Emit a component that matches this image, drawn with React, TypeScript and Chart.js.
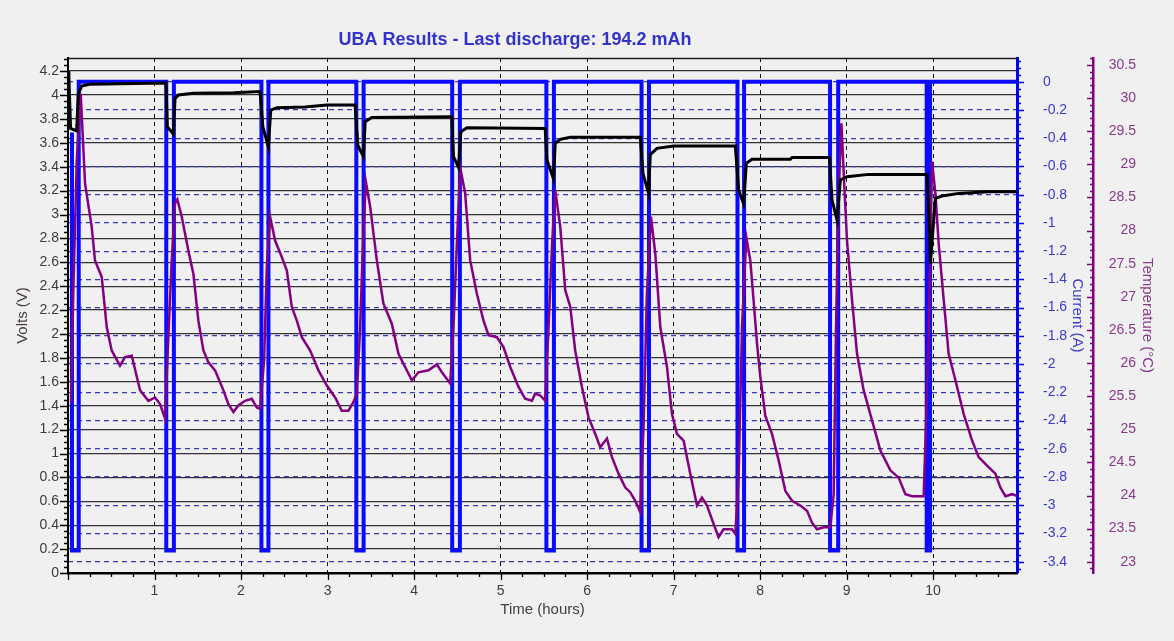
import { useEffect, useRef } from 'react';
import { Chart, registerables } from 'chart.js';

Chart.register(...registerables);

const FONT = '"Liberation Sans", Arial, sans-serif';

const TITLE = 'UBA Results - Last discharge: 194.2 mAh';
const X_TITLE = 'Time (hours)';
const VOLT_TITLE = 'Volts (V)';
const CURRENT_TITLE = 'Current (A)';
const TEMP_TITLE = 'Temperature (°C)';

// axis ranges
const X_MIN = 0;
const X_MAX = 10.97;
const VOLT_MIN = 0;
const VOLT_MAX = 4.31;
const CURRENT_MIN = -3.48;
const CURRENT_MAX = 0.168;
const TEMP_MIN = 22.83;
const TEMP_MAX = 30.606;

// Voltage (V) vs time (hours)
const voltHours = [
  0, 0.01, 0.03, 0.1, 0.119, 0.158, 0.25, 1.133,
  1.148, 1.218, 1.237, 1.276, 1.449, 1.912, 2.22,
  2.252, 2.316, 2.344, 2.414, 2.741, 2.992, 3.319,
  3.35, 3.415, 3.435, 3.512, 4.437,
  4.456, 4.514, 4.541, 4.611, 5.516,
  5.536, 5.612, 5.632, 5.69, 5.806, 6.615,
  6.646, 6.711, 6.731, 6.808, 7.0, 7.714,
  7.752, 7.81, 7.841, 7.907, 8.35, 8.369, 8.801,
  8.832, 8.89, 8.928, 9.005, 9.255, 9.931,
  9.957, 9.969, 10.026, 10.104, 10.296, 10.643, 10.97,
];
const voltValues = [
  4.2, 4.15, 3.72, 3.7, 4.01, 4.075, 4.09, 4.1,
  3.735, 3.674, 3.97, 4.0, 4.014, 4.02, 4.03,
  3.735, 3.567, 3.875, 3.894, 3.9, 3.916, 3.916,
  3.58, 3.485, 3.777, 3.813, 3.818,
  3.485, 3.395, 3.693, 3.727, 3.72,
  3.456, 3.3, 3.596, 3.629, 3.646, 3.646,
  3.345, 3.177, 3.5, 3.554, 3.573, 3.573,
  3.205, 3.088, 3.428, 3.462, 3.462, 3.478, 3.478,
  3.121, 2.954, 3.289, 3.316, 3.336, 3.336,
  2.898, 2.59, 3.135, 3.155, 3.177, 3.19, 3.19,
];

// Current (A) vs time (hours)
const currentHours = [
  0.046, 0.046, 0.124, 0.124,
  1.136, 1.136, 1.224, 1.224,
  2.236, 2.236, 2.317, 2.317,
  3.333, 3.333, 3.417, 3.417,
  4.441, 4.441, 4.53, 4.53,
  5.53, 5.53, 5.617, 5.617,
  6.63, 6.63, 6.716, 6.716,
  7.739, 7.739, 7.815, 7.815,
  8.809, 8.809, 8.903, 8.903,
  9.926, 9.926, 9.934, 9.936, 9.944, 9.946, 9.954, 9.965, 9.965,
  10.97,
];
const currentValues = [
  -0.36, -3.32, -3.32, 0,
  0, -3.32, -3.32, 0,
  0, -3.32, -3.32, 0,
  0, -3.32, -3.32, 0,
  0, -3.32, -3.32, 0,
  0, -3.32, -3.32, 0,
  0, -3.32, -3.32, 0,
  0, -3.32, -3.32, 0,
  0, -3.32, -3.32, 0,
  0, -3.32, -3.32, -0.3, -3.32, -0.3, -3.32, -3.32, 0,
  0,
];

// Temperature (°C) vs time (hours)
const tempHours = [
  0.035, 0.061, 0.101, 0.147, 0.197, 0.274, 0.312, 0.39, 0.448, 0.505,
  0.601, 0.659, 0.737, 0.833, 0.929, 1.006, 1.064, 1.122, 1.16, 1.199,
  1.237, 1.264, 1.315, 1.391, 1.449, 1.507, 1.565, 1.623, 1.7, 1.796,
  1.854, 1.912, 1.969, 2.047, 2.124, 2.182, 2.22, 2.267, 2.298, 2.336,
  2.394, 2.471, 2.529, 2.587, 2.645, 2.703, 2.799, 2.895, 2.992, 3.088,
  3.165, 3.242, 3.299, 3.339, 3.377, 3.408, 3.443, 3.493, 3.57, 3.646,
  3.744, 3.82, 3.897, 3.975, 4.051, 4.167, 4.264, 4.322, 4.418, 4.456,
  4.495, 4.533, 4.591, 4.649, 4.726, 4.803, 4.861, 4.958, 5.034, 5.112,
  5.208, 5.285, 5.363, 5.401, 5.459, 5.516, 5.555, 5.594, 5.632, 5.69,
  5.748, 5.806, 5.863, 5.941, 6.017, 6.095, 6.152, 6.23, 6.288, 6.364,
  6.442, 6.499, 6.557, 6.615, 6.653, 6.692, 6.739, 6.789, 6.847, 6.924,
  6.982, 7.039, 7.116, 7.193, 7.271, 7.329, 7.386, 7.463, 7.52, 7.578,
  7.675, 7.714, 7.752, 7.791, 7.841, 7.887, 7.925, 7.965, 8.003, 8.061,
  8.138, 8.215, 8.292, 8.369, 8.465, 8.543, 8.6, 8.658, 8.735, 8.812,
  8.851, 8.878, 8.908, 8.94, 8.978, 9.005, 9.063, 9.121, 9.197, 9.295,
  9.391, 9.506, 9.602, 9.68, 9.757, 9.891, 9.942, 9.988, 10.027, 10.065,
  10.123, 10.18, 10.258, 10.354, 10.451, 10.527, 10.624, 10.72, 10.778, 10.836,
  10.914, 10.971,
];
const tempValues = [
  25.4, 27.05, 29.06, 30.07, 28.71, 28.06, 27.55, 27.3, 26.54, 26.19,
  25.96, 26.09, 26.11, 25.59, 25.43, 25.48, 25.38, 25.16, 26.39, 27.55,
  28.41, 28.47, 28.21, 27.7, 27.35, 26.64, 26.19, 26.01, 25.89, 25.59,
  25.38, 25.26, 25.36, 25.43, 25.46, 25.33, 25.31, 26.04, 27.45, 28.21,
  27.85, 27.6, 27.4, 26.85, 26.64, 26.39, 26.19, 25.89, 25.66, 25.48,
  25.28, 25.28, 25.41, 25.54, 26.54, 27.75, 28.74, 28.36, 27.55, 26.9,
  26.59, 26.14, 25.94, 25.74, 25.86, 25.89, 25.98, 25.86, 25.69, 26.54,
  27.8, 28.96, 28.56, 27.55, 27.05, 26.64, 26.42, 26.39, 26.24, 25.94,
  25.64, 25.46, 25.43, 25.54, 25.51, 25.43, 26.54, 27.75, 28.61, 28.06,
  27.1, 26.85, 26.19, 25.64, 25.18, 24.93, 24.73, 24.86, 24.58, 24.33,
  24.12, 24.05, 23.92, 23.75, 25.03, 27.05, 28.21, 27.65, 26.54, 25.94,
  25.23, 24.93, 24.83, 24.33, 23.85, 23.97, 23.85, 23.57, 23.37, 23.49,
  23.49, 23.42, 24.27, 26.54, 27.9, 27.55, 26.95, 26.29, 25.79, 25.2,
  24.93, 24.53, 24.07, 23.92, 23.85, 23.77, 23.59, 23.49, 23.52, 23.52,
  24.02, 26.54, 28.56, 29.62, 28.56, 27.85, 26.95, 26.14, 25.59, 25.13,
  24.68, 24.38, 24.27, 24.02, 23.99, 23.99, 26.04, 29.04, 28.56, 27.8,
  26.95, 26.14, 25.74, 25.23, 24.83, 24.58, 24.45, 24.33, 24.12, 23.99,
  24.02, 23.99,
];

const fmt = (v: number) => String(Math.round(Number(v) * 100) / 100);

function drawTickMarks(
  ctx: CanvasRenderingContext2D,
  scale: any,
  horizontal: boolean,
  base: number,
  dir: number,
  step: number,
  every: number,
  majLen: number,
  minLen: number,
  color: string,
  lw: number
) {
  const start = Math.ceil(scale.min / step - 1e-6);
  const end = Math.floor(scale.max / step + 1e-6);
  ctx.strokeStyle = color;
  ctx.lineWidth = lw;
  ctx.beginPath();
  for (let i = start; i <= end; i++) {
    const p = Math.round(scale.getPixelForValue(i * step)) + 0.5;
    const len = Math.abs(i % every) === 0 ? majLen : minLen;
    if (horizontal) {
      ctx.moveTo(p, base);
      ctx.lineTo(p, base + dir * len);
    } else {
      ctx.moveTo(base, p);
      ctx.lineTo(base + dir * len, p);
    }
  }
  ctx.stroke();
}

const decorPlugin = {
  id: 'decor',
  afterDraw(chart: any) {
    const { ctx, chartArea: ca, scales } = chart;
    ctx.save();
    ctx.setLineDash([]);
    ctx.strokeStyle = '#1e1e1e';
    ctx.lineWidth = 1.5;
    ctx.beginPath();
    ctx.moveTo(ca.left, ca.top + 0.5);
    ctx.lineTo(ca.right, ca.top + 0.5);
    ctx.stroke();

    drawTickMarks(ctx, scales.x, true, ca.bottom, 1, 0.25, 4, 7, 4, '#000', 1.3);
    drawTickMarks(ctx, scales.y, false, ca.left, -1, 0.05, 4, 8, 4, '#000', 1.3);
    drawTickMarks(ctx, scales.yCur, false, ca.right, 1, 0.05, 4, 7, 4, '#0000f0', 1.3);
    drawTickMarks(ctx, scales.yTemp, false, scales.yTemp.left, -1, 0.1, 5, 6, 3, '#800080', 1.3);

    ctx.font = `bold 18px ${FONT}`;
    ctx.fillStyle = '#3333cc';
    ctx.textAlign = 'center';
    ctx.textBaseline = 'middle';
    ctx.fillText(TITLE, ca.left + 447, 40);
    ctx.restore();
  },
};

export default function App() {
  const ref = useRef<HTMLCanvasElement>(null);

  useEffect(() => {
    const canvas = ref.current;
    if (!canvas) return;
    const chart = new Chart(canvas, {
      type: 'line',
      data: {
        datasets: [
          {
            label: 'Volts',
            data: voltHours.map((x, i) => ({ x, y: voltValues[i] })),
            yAxisID: 'y',
            borderColor: '#000000',
            borderWidth: 3,
            pointRadius: 0,
            order: 0,
          },
          {
            label: 'Temperature',
            data: tempHours.map((x, i) => ({ x, y: tempValues[i] })),
            yAxisID: 'yTemp',
            borderColor: '#830083',
            borderWidth: 2.5,
            pointRadius: 0,
            order: 1,
          },
          {
            label: 'Current',
            data: currentHours.map((x, i) => ({ x, y: currentValues[i] })),
            yAxisID: 'yCur',
            borderColor: '#0a0aff',
            borderWidth: 4,
            pointRadius: 0,
            order: 2,
          },
        ],
      },
      options: {
        animation: false,
        responsive: false,
        events: [],
        layout: { padding: { top: 58, right: 38, bottom: 0, left: 0 } },
        elements: { line: { tension: 0, borderJoinStyle: 'miter', borderCapStyle: 'butt' }, point: { radius: 0 } },
        plugins: { legend: { display: false }, tooltip: { enabled: false }, title: { display: false } },
        scales: {
          x: {
            type: 'linear',
            position: 'bottom',
            min: X_MIN,
            max: X_MAX,
            ticks: {
              stepSize: 1,
              includeBounds: false,
              autoSkip: false,
              maxRotation: 0,
              padding: 10,
              color: '#3c3c3c',
              font: { family: FONT, size: 14 },
              callback: (v: any) => (Number(v) === 0 ? '' : fmt(v)),
            },
            grid: { color: '#111111', lineWidth: 1, drawTicks: false },
            border: { display: true, color: '#000000', width: 2.5, dash: [4, 4] },
            title: {
              display: true,
              text: X_TITLE,
              color: '#404040',
              font: { family: FONT, size: 15 },
              padding: { top: 0, bottom: 22 },
            },
            afterFit: (s: any) => {
              s.height = 68;
            },
          },
          y: {
            type: 'linear',
            position: 'left',
            min: VOLT_MIN,
            max: VOLT_MAX,
            ticks: {
              stepSize: 0.2,
              includeBounds: false,
              autoSkip: false,
              padding: 9,
              color: '#3c3c3c',
              font: { family: FONT, size: 14 },
              callback: (v: any) => fmt(v),
            },
            grid: { color: '#333333', lineWidth: 1.3, drawTicks: false },
            border: { display: true, color: '#000000', width: 2 },
            title: {
              display: true,
              text: VOLT_TITLE,
              color: '#4b4040',
              font: { family: FONT, size: 15 },
              padding: { top: 14, bottom: 0 },
            },
            afterFit: (s: any) => {
              s.width = 68;
            },
          },
          yCur: {
            type: 'linear',
            position: 'right',
            weight: 1,
            min: CURRENT_MIN,
            max: CURRENT_MAX,
            ticks: {
              stepSize: 0.2,
              includeBounds: false,
              autoSkip: false,
              padding: 26,
              crossAlign: 'near',
              color: '#3b3bd0',
              font: { family: FONT, size: 14 },
              callback: (v: any) => fmt(v),
            },
            grid: { color: '#3a3ab8', lineWidth: 1.2, drawTicks: false },
            border: { display: true, color: '#0000f0', width: 3, dash: [5, 4] },
            title: {
              display: true,
              text: CURRENT_TITLE,
              color: '#3b3bd0',
              font: { family: FONT, size: 15 },
              padding: { top: 6.5, bottom: 0 },
            },
            afterFit: (s: any) => {
              s.width = 76;
            },
          },
          yTemp: {
            type: 'linear',
            position: 'right',
            weight: 2,
            min: TEMP_MIN,
            max: TEMP_MAX,
            ticks: {
              stepSize: 0.5,
              includeBounds: false,
              autoSkip: false,
              padding: 16,
              crossAlign: 'far',
              color: '#8a3a8a',
              font: { family: FONT, size: 14 },
              callback: (v: any) => fmt(v),
            },
            grid: { display: false, drawOnChartArea: false, drawTicks: false },
            border: { display: true, color: '#800080', width: 2.5 },
            title: {
              display: true,
              text: TEMP_TITLE,
              color: '#8a3a8a',
              font: { family: FONT, size: 15 },
              padding: { top: -20.5, bottom: 0 },
            },
            afterFit: (s: any) => {
              s.width = 43;
            },
          },
        },
      } as any,
      plugins: [decorPlugin],
    });
    return () => chart.destroy();
  }, []);

  return (
    <div style={{ position: 'absolute', left: 0, top: 0, width: 1174, height: 641, background: '#f0f0f0' }}>
      <canvas ref={ref} width={1174} height={641} style={{ display: 'block' }} />
    </div>
  );
}
